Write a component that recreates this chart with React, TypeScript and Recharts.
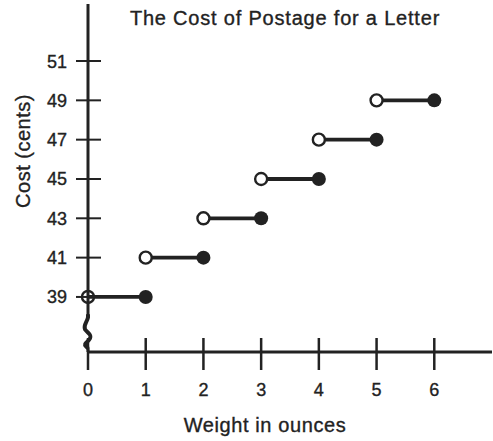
import React from "react";
import { ComposedChart, Line, XAxis, YAxis, ReferenceDot } from "recharts";

// weight breakpoints (ounces) and the cost for each step (cents)
const weights = [0, 1, 2, 3, 4, 5, 6];
const costs = [39, 41, 43, 45, 47, 49];
const weightTicks = [0, 1, 2, 3, 4, 5, 6];
const costTicks = [39, 41, 43, 45, 47, 49, 51];

const INK = "#222";
const FONT = "'Liberation Sans', Arial, Helvetica, sans-serif";

// one two-point series per step: open end on the left, closed end on the right
const steps = costs.map((c, i) => [
  { w: weights[i], cost: c },
  { w: weights[i + 1], cost: c },
]);

function StepDot(props: any) {
  const { cx, cy, index, payload } = props;
  if (index === 0) {
    return (
      <circle
        key={`o-${cx}`}
        cx={cx}
        cy={cy}
        r={6}
        fill={payload.w === 0 ? "none" : "#fff"}
        stroke={INK}
        strokeWidth={2.4}
      />
    );
  }
  return <circle key={`c-${cx}`} cx={cx} cy={cy} r={7} fill={INK} />;
}

function CostTick(props: any) {
  const { x, y, payload } = props;
  return (
    <g>
      <line x1={x - 12} x2={x + 13} y1={y} y2={y} stroke={INK} strokeWidth={2} />
      <text
        x={x - 21}
        y={y}
        dy={6.5}
        textAnchor="end"
        fontSize={18}
        fill={INK}
        stroke={INK}
        strokeWidth={0.35}
        fontFamily={FONT}
      >
        {payload.value}
      </text>
    </g>
  );
}

function WeightTick(props: any) {
  const { x, y, payload } = props;
  return (
    <g>
      <line x1={x} x2={x} y1={y - 14} y2={y + 18} stroke={INK} strokeWidth={2.5} />
      <text
        x={x}
        y={y + 44}
        textAnchor="middle"
        fontSize={18}
        fill={INK}
        stroke={INK}
        strokeWidth={0.35}
        fontFamily={FONT}
      >
        {payload.value}
      </text>
    </g>
  );
}

// the zigzag that breaks the y axis between 0 and 39
function AxisBreak(props: any) {
  const { cx, cy } = props;
  return (
    <g>
      <rect x={cx - 7} y={cy - 16} width={14} height={32} fill="#fff" />
      <path
        d={`M${cx},${cy - 17} L${cx},${cy - 14} C${cx - 1},${cy - 9} ${cx - 5},${cy - 6} ${cx - 3},${cy - 2} C${cx},${cy + 2} ${cx + 4},${cy + 3} ${cx + 2},${cy + 7} C${cx},${cy + 11} ${cx - 5},${cy + 12} ${cx - 2},${cy + 15} L${cx},${cy + 17}`}
        stroke={INK}
        strokeWidth={4}
        fill="none"
      />
    </g>
  );
}

export default function App() {
  return (
    <div style={{ position: "absolute", left: 0, top: 0, width: 493, height: 441, background: "#fff" }}>
      <div
        style={{
          position: "absolute",
          left: 100,
          width: 370,
          top: 7,
          textAlign: "center",
          fontFamily: FONT,
          fontSize: 20,
          letterSpacing: 0.8,
          color: INK,
          WebkitTextStroke: "0.35px #222",
          whiteSpace: "nowrap",
        }}
      >
        The Cost of Postage for a Letter
      </div>
      <ComposedChart
        width={493}
        height={441}
        margin={{ top: 4, right: 1, bottom: 0, left: 0 }}
      >
        <XAxis
          type="number"
          dataKey="w"
          domain={[0, 7]}
          ticks={weightTicks}
          interval={0}
          height={89}
          tickSize={0}
          tickMargin={0}
          tickLine={false}
          tick={<WeightTick />}
          axisLine={{ stroke: INK, strokeWidth: 3 }}
          label={() => (
            <text
              x={265}
              y={432}
              textAnchor="middle"
              fontSize={20}
              fill={INK}
              stroke={INK}
              strokeWidth={0.35}
              fontFamily={FONT}
              letterSpacing={0.6}
            >
              Weight in ounces
            </text>
          )}
        />
        <YAxis
          type="number"
          domain={[36.2, 53.9]}
          ticks={costTicks}
          interval={0}
          width={88}
          tickSize={0}
          tickMargin={0}
          tickLine={false}
          tick={<CostTick />}
          axisLine={{ stroke: INK, strokeWidth: 3 }}
          label={() => (
            <text
              x={30}
              y={151}
              transform="rotate(-90 30 151)"
              textAnchor="middle"
              fontSize={20}
              fill={INK}
              stroke={INK}
              strokeWidth={0.35}
              fontFamily={FONT}
              letterSpacing={0.5}
            >
              Cost (cents)
            </text>
          )}
        />
        {steps.map((s, i) => (
          <Line
            key={i}
            data={s}
            dataKey="cost"
            type="linear"
            stroke={INK}
            strokeWidth={3.8}
            dot={StepDot}
            activeDot={false}
            isAnimationActive={false}
          />
        ))}
        <ReferenceDot x={0} y={37.25} shape={AxisBreak} ifOverflow="visible" />
      </ComposedChart>
    </div>
  );
}
